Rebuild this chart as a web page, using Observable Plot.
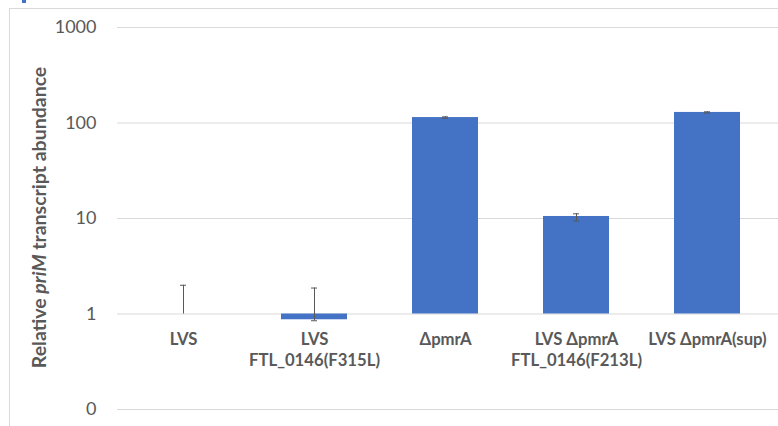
<!DOCTYPE html>
<html>
<head>
<meta charset="utf-8">
<script src="https://cdn.jsdelivr.net/npm/d3@7"></script>
<script src="https://cdn.jsdelivr.net/npm/@observablehq/plot@0.6"></script>
<style>
  html, body { margin: 0; padding: 0; background: #fff; overflow: hidden; }
  #wrap { position: relative; width: 778px; height: 426px; }
  #frame { position: absolute; left: 9px; top: 8px; width: 800px; height: 440px; border: 1px solid #d9d9d9; box-sizing: border-box; }
  #mark { position: absolute; left: 22px; top: 0px; width: 4px; height: 3px; background: #4472c4; }
  #chart { position: absolute; left: 0; top: 0; }
</style>
</head>
<body>
<div id="wrap"><div id="frame"></div><div id="mark"></div><div id="chart"></div></div>
<script>
const categories = ["LVS", "LVS\nFTL_0146(F315L)", "ΔpmrA", "LVS ΔpmrA\nFTL_0146(F213L)", "LVS ΔpmrA(sup)"];
const values = [1, 0.87, 114, 10.5, 129];
const errHigh = [2.0, 1.87, 116, 11.2, 131];
const errLow = [null, 0.85, 112, 9.4, 127];
const yTickValues = [0.1, 1, 10, 100, 1000];
const yTickLabels = ["0", "1", "10", "100", "1000"];
const baseline = 1;
const yTitleParts = [["Relative ", "normal"], ["priM", "italic"], [" transcript abundance", "normal"]];

const data = categories.map((c, i) => ({c, v: values[i], hi: errHigh[i], lo: errLow[i]}));

const plot = Plot.plot({
  width: 778,
  height: 426,
  marginLeft: 117,
  marginRight: 6,
  marginTop: 27,
  marginBottom: 17,
  style: {fontFamily: "Lato, 'Open Sans', sans-serif", background: "transparent"},
  x: {domain: categories, paddingInner: 0.5, paddingOuter: 0.25, axis: null},
  y: {type: "log", domain: [0.1, 1000], axis: null},
  marks: [
    Plot.ruleY(yTickValues, {stroke: "#d9d9d9", strokeWidth: 1, insetRight: -6}),
    Plot.axisY({ticks: yTickValues, tickFormat: d => yTickLabels[yTickValues.indexOf(d)], tickSize: 0, tickPadding: 21, fontSize: 18, fill: "#595959", label: null}),
    Plot.barY(data, {x: "c", y1: baseline, y2: "v", fill: "#4472c4"}),
    Plot.ruleX(data, {x: "c", y1: d => d.lo ?? baseline, y2: "hi", stroke: "#595959", strokeWidth: 1}),
    Plot.tickY(data, {x: "c", y: "hi", stroke: "#595959", strokeWidth: 1, insetLeft: 30, insetRight: 30}),
    Plot.tickY(data.filter(d => d.lo != null), {x: "c", y: "lo", stroke: "#595959", strokeWidth: 1, insetLeft: 30, insetRight: 30}),
    Plot.text(data, {x: "c", y: baseline, text: "c", dy: 17, lineAnchor: "top", lineHeight: 1.22, fontSize: 16.7, fontWeight: "bold", fill: "#595959"})
  ]
});
document.getElementById("chart").appendChild(plot);

// rotated y-axis title with italic gene name
const svg = d3.select(plot);
const t = svg.append("text")
  .attr("transform", "translate(46,217.5) rotate(-90)")
  .attr("text-anchor", "middle")
  .attr("font-family", "Lato, 'Open Sans', sans-serif")
  .attr("font-size", 19.5)
  .attr("font-weight", "bold")
  .attr("fill", "#595959");
yTitleParts.forEach(([s, st]) => t.append("tspan").attr("font-style", st).text(s));
</script>
</body>
</html>
